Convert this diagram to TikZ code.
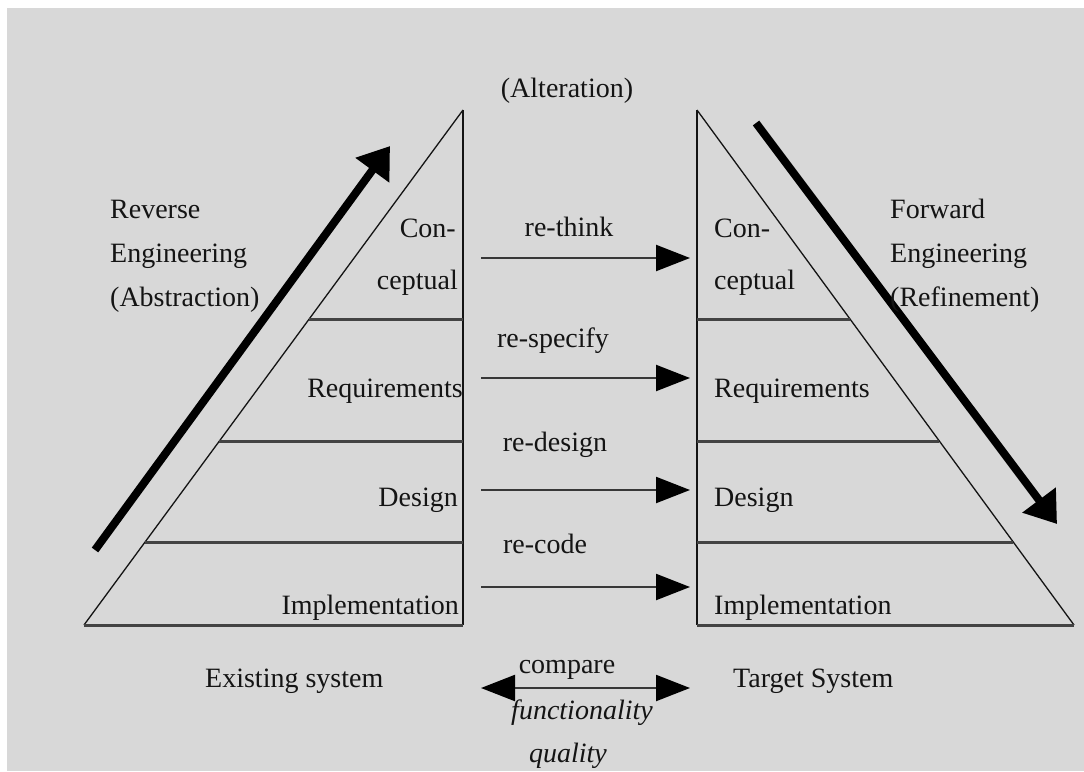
\documentclass[tikz,border=0pt]{standalone}
\usepackage{fontspec}
\setmainfont{Liberation Serif}
\usetikzlibrary{arrows.meta}
\definecolor{paper}{HTML}{D8D8D8}
\definecolor{ink}{HTML}{141414}
\begin{document}
\begin{tikzpicture}[x=1pt,y=-1pt,
  txt/.style={font=\fontsize{28}{30}\selectfont, inner sep=0pt, text=ink},
  itxt/.style={txt, font=\fontsize{28}{30}\selectfont\itshape},
  edge/.style={ink, line width=1.3pt},
  rung/.style={ink!80, line width=3pt},
  pole/.style={ink, line width=2pt},
  flow/.style={ink!85, line width=2.2pt, -{Triangle[length=34pt,width=26pt,color=black]}},
  both/.style={ink!85, line width=2.2pt, {Triangle[length=34pt,width=26pt,color=black]}-{Triangle[length=34pt,width=26pt,color=black]}},
  bigflow/.style={black, line width=8pt, -{Triangle[length=30pt,width=40pt]}}]
\useasboundingbox (0,0) rectangle (1084,771);
\fill[white] (0,0) rectangle (1084,771);
\fill[paper] (7,8) rectangle (1084,771);

% existing system pyramid
\coordinate (Lbl) at (84,625);
\coordinate (Lbr) at (463,625);
\coordinate (Ltop) at (463,110);
\draw[edge] (Lbl) -- (Ltop);
\draw[pole] (Ltop) -- (Lbr);
\draw[rung] (Lbl) -- (Lbr);
\coordinate (L1a) at (309,319); \coordinate (L1b) at (463,319);
\coordinate (L2a) at (219,441); \coordinate (L2b) at (463,441);
\coordinate (L3a) at (145,542); \coordinate (L3b) at (463,542);
\draw[rung] (L1a) -- (L1b);
\draw[rung] (L2a) -- (L2b);
\draw[rung] (L3a) -- (L3b);

% target system pyramid
\coordinate (Rbl) at (697,625);
\coordinate (Rbr) at (1074,625);
\coordinate (Rtop) at (697,110);
\draw[edge] (Rtop) -- (Rbr);
\draw[pole] (Rtop) -- (Rbl);
\draw[rung] (Rbl) -- (Rbr);
\coordinate (R1a) at (697,319); \coordinate (R1b) at (850,319);
\coordinate (R2a) at (697,441); \coordinate (R2b) at (939,441);
\coordinate (R3a) at (697,542); \coordinate (R3b) at (1013,542);
\draw[rung] (R1a) -- (R1b);
\draw[rung] (R2a) -- (R2b);
\draw[rung] (R3a) -- (R3b);

% layer names, existing side
\node[txt, anchor=base east] (lcon) at (456,237) {Con-};
\node[txt, anchor=base east] (lcep) at (458,289) {ceptual};
\node[txt, anchor=base east] (lreq) at (463,397) {Requirements};
\node[txt, anchor=base east] (ldes) at (458,506) {Design};
\node[txt, anchor=base east] (limp) at (459,614) {Implementation};

% layer names, target side
\node[txt, anchor=base west] (rcon) at (714,237) {Con-};
\node[txt, anchor=base west] (rcep) at (714,289) {ceptual};
\node[txt, anchor=base west] (rreq) at (714,397) {Requirements};
\node[txt, anchor=base west] (rdes) at (714,506) {Design};
\node[txt, anchor=base west] (rimp) at (714,614) {Implementation};

% transformations between the levels
\coordinate (a1s) at (481,258); \coordinate (a1e) at (690,258);
\coordinate (a2s) at (481,378); \coordinate (a2e) at (690,378);
\coordinate (a3s) at (481,490); \coordinate (a3e) at (690,490);
\coordinate (a4s) at (481,587); \coordinate (a4e) at (690,587);
\draw[flow] (a1s) -- (a1e);
\draw[flow] (a2s) -- (a2e);
\draw[flow] (a3s) -- (a3e);
\draw[flow] (a4s) -- (a4e);
\node[txt, anchor=base] (think) at (569,236) {re-think};
\node[txt, anchor=base] (spec) at (553,347) {re-specify};
\node[txt, anchor=base] (desg) at (555,451) {re-design};
\node[txt, anchor=base] (code) at (545,553) {re-code};
\node[txt, anchor=base] (alt) at (567,97) {(Alteration)};

% comparison of the two systems
\coordinate (cs) at (481,688); \coordinate (ce) at (690,688);
\draw[both] (cs) -- (ce);
\node[txt, anchor=base] (cmp) at (567,673) {compare};
\node[itxt, anchor=base] (fun) at (582,719) {functionality};
\node[itxt, anchor=base] (qual) at (568,762) {quality};
\node[txt, anchor=base west] (exist) at (205,687) {Existing system};
\node[txt, anchor=base west] (target) at (733,687) {Target System};

% engineering directions
\coordinate (rvs) at (95,550); \coordinate (rve) at (390,146);
\coordinate (fws) at (756,123); \coordinate (fwe) at (1057,524);
\draw[bigflow] (rvs) -- (rve);
\draw[bigflow] (fws) -- (fwe);
\node[txt, anchor=base west] (rev1) at (110,218) {Reverse};
\node[txt, anchor=base west] (rev2) at (110,262) {Engineering};
\node[txt, anchor=base west] (rev3) at (110,306) {(Abstraction)};
\node[txt, anchor=base west] (fwd1) at (890,218) {Forward};
\node[txt, anchor=base west] (fwd2) at (890,262) {Engineering};
\node[txt, anchor=base west] (fwd3) at (890,306) {(Refinement)};
\end{tikzpicture}
\end{document}
